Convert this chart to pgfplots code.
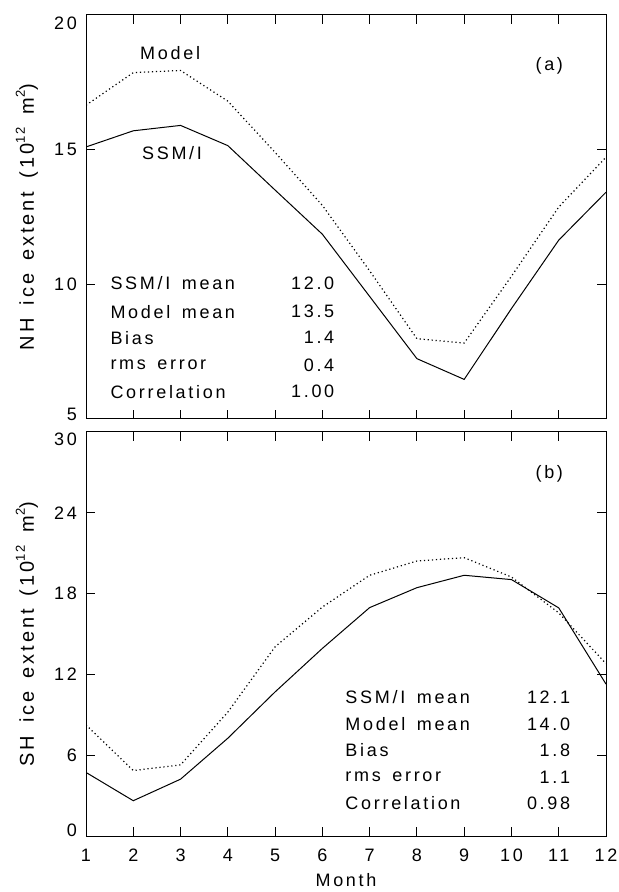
\documentclass[border=0pt]{standalone}
\usepackage{fontspec}
\setmainfont{Liberation Sans}[LetterSpace=15, WordSpace=1.5]
\usepackage{pgfplots}
\pgfplotsset{compat=1.18}

\newcommand{\lab}{\fontsize{9}{11}\selectfont}
\newcommand{\upx}[1]{\raisebox{0.85ex}{\fontsize{6.5}{6.5}\selectfont #1}}
% move an end tick label inward without changing its box
\newcommand{\shiftlab}[2]{\raisebox{#1}[\height][\depth]{#2}}

\pgfplotsset{icepanel/.style={
    width=260pt, height=202pt, scale only axis,
    xmin=1, xmax=12, xtick={1,...,12},
    tick align=inside, xtick pos=both, ytick pos=both,
    major tick length=4.5pt,
    axis line style={line width=0.5pt},
    every tick/.style={black, line width=0.5pt},
    tick label style={font=\lab},
    label style={font=\lab},
    ylabel style={font=\fontsize{10}{12}\selectfont,
      at={(axis description cs:-0.1135,0.5)}, anchor=center},
    yticklabel style={xshift=-1pt},
  },
  ssmi/.style={black, line width=0.5pt},
  model/.style={black, line width=0.6pt, dash pattern=on 0.6pt off 1.4pt},
}
\tikzset{stat/.style={font=\lab, inner sep=0pt}}

\begin{document}
\begin{tikzpicture}
\path[use as bounding box] (-43pt,-28pt) rectangle (266pt,418pt);

% NH panel
\begin{axis}[icepanel, at={(0,208.5pt)},
  ymin=5, ymax=20, ytick={5,10,15,20}, xticklabels={},
  yticklabels={\shiftlab{2.5pt}{5},10,15,\shiftlab{-4pt}{20}},
  ylabel={NH ice extent (10\upx{12} m\upx{2})}]
\addplot[ssmi] coordinates {
  (1,15.1) (2,15.7) (3,15.9) (4,15.15) (5,13.5) (6,11.86)
  (7,9.55) (8,7.24) (9,6.47) (10,9.1) (11,11.64) (12,13.42)};
\addplot[model] coordinates {
  (1,16.65) (2,17.86) (3,17.94) (4,16.8) (5,14.9) (6,12.93)
  (7,10.5) (8,7.98) (9,7.82) (10,10.3) (11,12.87) (12,14.72)};
\node[font=\lab] at (axis cs:2.78,18.59) {Model};
\node[font=\lab] at (axis cs:2.82,14.86) {SSM/I};
\node[font=\lab] at (axis cs:10.8,18.1) {(a)};
\node[stat, anchor=west] at (axis cs:1.51,10.03) {SSM/I mean};
\node[stat, anchor=west] at (axis cs:1.51,8.98) {Model mean};
\node[stat, anchor=west] at (axis cs:1.51,8.02) {Bias};
\node[stat, anchor=west] at (axis cs:1.51,7.01) {rms error};
\node[stat, anchor=west] at (axis cs:1.51,6.01) {Correlation};
\node[stat, anchor=east] at (axis cs:6.26,10.03) {12.0};
\node[stat, anchor=east] at (axis cs:6.26,8.98) {13.5};
\node[stat, anchor=east] at (axis cs:6.26,8.02) {1.4};
\node[stat, anchor=east] at (axis cs:6.26,7.01) {0.4};
\node[stat, anchor=east] at (axis cs:6.26,6.01) {1.00};
\end{axis}

% SH panel
\begin{axis}[icepanel, at={(0,0)},
  ymin=0, ymax=30, ytick={0,6,...,30},
  yticklabels={\shiftlab{3pt}{0},6,12,18,24,\shiftlab{-3.5pt}{30}},
  /pgf/number format/assume math mode=true,
  xlabel={Month},
  xlabel style={at={(axis description cs:0.5,0)}, anchor=center, yshift=-22pt},
  xticklabel style={yshift=-3pt},
  ylabel={SH ice extent (10\upx{12} m\upx{2})}]
\addplot[ssmi] coordinates {
  (1,4.72) (2,2.62) (3,4.22) (4,7.26) (5,10.7) (6,13.93)
  (7,16.96) (8,18.44) (9,19.36) (10,19.04) (11,16.94) (12,11.28)};
\addplot[model] coordinates {
  (1,8.25) (2,4.86) (3,5.28) (4,9.2) (5,14.05) (6,17.0)
  (7,19.36) (8,20.42) (9,20.67) (10,19.23) (11,16.57) (12,12.8)};
\node[font=\lab] at (axis cs:10.8,26.9) {(b)};
\node[stat, anchor=west] at (axis cs:6.48,10.3) {SSM/I mean};
\node[stat, anchor=west] at (axis cs:6.48,8.33) {Model mean};
\node[stat, anchor=west] at (axis cs:6.48,6.36) {Bias};
\node[stat, anchor=west] at (axis cs:6.48,4.39) {rms error};
\node[stat, anchor=west] at (axis cs:6.48,2.42) {Correlation};
\node[stat, anchor=east] at (axis cs:11.25,10.3) {12.1};
\node[stat, anchor=east] at (axis cs:11.25,8.33) {14.0};
\node[stat, anchor=east] at (axis cs:11.25,6.36) {1.8};
\node[stat, anchor=east] at (axis cs:11.25,4.39) {1.1};
\node[stat, anchor=east] at (axis cs:11.25,2.42) {0.98};
\end{axis}
\end{tikzpicture}
\end{document}
